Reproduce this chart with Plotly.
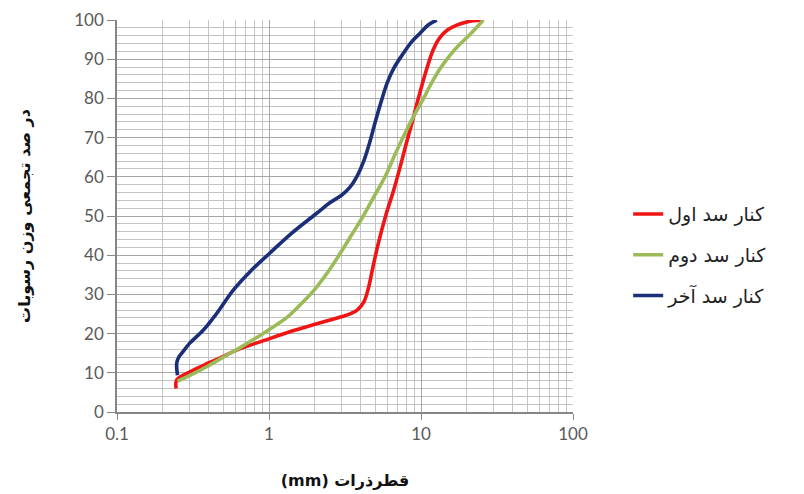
import plotly.graph_objects as go

# Data (particle size mm, cumulative %)
red_x = [0.245, 0.247, 0.30, 0.40, 0.50, 0.64, 0.92, 1.40, 2.06, 2.70, 3.24, 3.80, 4.20, 4.50, 4.80, 5.20, 5.90, 6.60, 7.30, 8.00, 8.70, 9.60, 10.9, 12.0, 13.3, 15.0, 17.2, 20.0, 22.0, 25.7]
red_y = [6.0, 8.2, 10.2, 12.5, 14.2, 16.1, 18.2, 20.6, 22.5, 23.8, 24.7, 26.0, 28.0, 31.5, 36.5, 42.5, 50.5, 56.5, 62.6, 68.5, 73.6, 80.0, 87.5, 92.3, 95.5, 97.5, 98.7, 99.5, 99.8, 100]

green_x = [0.25, 0.30, 0.40, 0.50, 0.65, 0.80, 1.00, 1.30, 1.60, 2.00, 2.50, 3.00, 3.50, 4.17, 5.00, 5.80, 6.80, 8.06, 9.20, 10.4, 11.5, 13.3, 15.5, 18.0, 21.0, 25.7]
green_y = [7.9, 9.3, 11.8, 14.0, 16.5, 18.6, 21.0, 24.0, 27.3, 31.3, 36.3, 41.0, 45.2, 50.0, 55.5, 60.0, 66.0, 72.0, 76.3, 80.0, 83.3, 87.5, 91.0, 93.8, 96.3, 100]

blue_x = [0.25, 0.247, 0.255, 0.267, 0.30, 0.37, 0.45, 0.582, 0.75, 1.01, 1.40, 2.06, 2.50, 3.00, 3.40, 3.80, 4.20, 4.60, 5.00, 5.50, 6.00, 6.60, 7.65, 8.70, 9.85, 11.2, 12.7]
blue_y = [9.4, 12.4, 14.0, 15.0, 17.5, 20.9, 25.0, 31.1, 35.8, 40.5, 45.5, 50.7, 53.3, 55.3, 57.3, 60.2, 64.0, 68.8, 74.0, 79.5, 84.0, 87.6, 91.5, 94.5, 96.6, 98.8, 100]

series_names = ["کنار سد اول", "کنار سد دوم", "کنار سد آخر"]
series_colors = ["#f01414", "#9bbb59", "#1b2f78"]

x_tick_vals = [0.1, 1, 10, 100]
x_tick_text = ["0.1", "1", "10", "100"]
y_tick_vals = [0, 10, 20, 30, 40, 50, 60, 70, 80, 90, 100]

x_title = "(mm) قطرذرات"
y_title = "در صد تجمعی وزن رسوبات"

fig = go.Figure()
for i, (xs, ys) in enumerate([(red_x, red_y), (green_x, green_y), (blue_x, blue_y)]):
    fig.add_trace(go.Scatter(
        x=xs, y=ys, mode="lines", name=series_names[i],
        legendgroup=f"g{i}",
        line=dict(color=series_colors[i], width=3.6, shape="spline", smoothing=1.0),
    ))

tick_font = dict(family="Lato, 'Liberation Sans', sans-serif", size=17, color="#595959")

fig.update_layout(
    width=796, height=486,
    margin=dict(l=109, r=231, t=12, b=82),
    paper_bgcolor="white", plot_bgcolor="white",
    showlegend=True,
    legend=dict(
        x=1.121, y=0.553, xanchor="left", yanchor="top",
        font=dict(family="DejaVu Sans, sans-serif", size=19, color="#222222"),
        tracegroupgap=13, bgcolor="rgba(0,0,0,0)",
    ),
    xaxis=dict(
        type="log", range=[-1, 2], automargin=False,
        tickvals=x_tick_vals, ticktext=x_tick_text,
        tickfont=tick_font,
        showgrid=True, gridcolor="#a6a6a6", gridwidth=1.2,
        minor=dict(dtick="D1", showgrid=True, gridcolor="#c4c4c4", gridwidth=1, ticks=""),
        showline=True, linecolor="#868686", linewidth=1.5,
        ticks="outside", ticklen=6, tickcolor="#868686",
        zeroline=False,
        title=dict(text=x_title, font=dict(family="DejaVu Sans, sans-serif", size=16, color="#111111", weight="bold"), standoff=32),
    ),
    yaxis=dict(
        range=[0, 100], tickvals=y_tick_vals, automargin=False,
        tickfont=tick_font,
        showgrid=True, gridcolor="#a6a6a6", gridwidth=1.2,
        minor=dict(dtick=2, showgrid=True, gridcolor="#c4c4c4", gridwidth=1, ticks=""),
        showline=True, linecolor="#868686", linewidth=1.5,
        ticks="outside", ticklen=8, tickcolor="#868686",
        zeroline=False,
        title=dict(text=y_title, font=dict(family="DejaVu Sans, sans-serif", size=16, color="#111111", weight="bold"), standoff=40),
    ),
)

fig.write_html("out.html")
